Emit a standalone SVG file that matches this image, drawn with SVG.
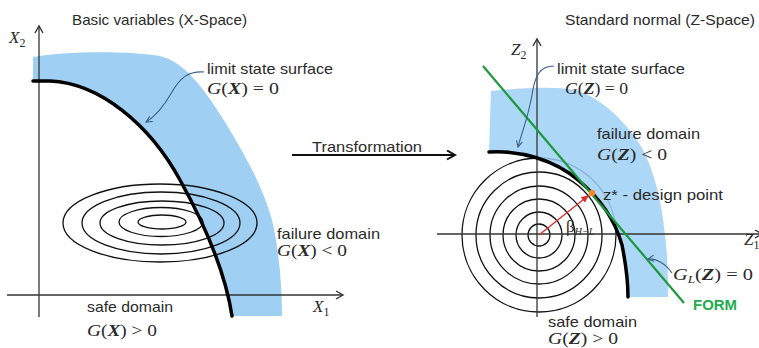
<svg xmlns="http://www.w3.org/2000/svg" width="759" height="348" viewBox="0 0 759 348">
<style>
.lbl{font-family:"Liberation Sans",Arial,sans-serif;font-size:15px;fill:#2a2a2a}
.math{font-family:"Liberation Serif","Times New Roman",serif;font-size:17px;fill:#2a2a2a}
.it{font-style:italic}
.bi{font-style:italic;font-weight:bold}
.axis{stroke:#333;stroke-width:1.3;fill:none}
.lss{stroke:#000;stroke-width:3.5;fill:none;stroke-linecap:round}
.blue{fill:#9fd0f4;stroke:none}
.cont{stroke:#111;stroke-width:1.3;fill:none}
.leader{stroke:#3b5f88;stroke-width:1.1;fill:none}
</style>
<defs>
<marker id="ax" markerUnits="userSpaceOnUse" markerWidth="12" markerHeight="12" refX="8" refY="5" orient="auto">
<path d="M1,1 L8,5 L1,9" fill="none" stroke="#333" stroke-width="1.4"/>
</marker>
<marker id="tr" markerUnits="userSpaceOnUse" markerWidth="12" markerHeight="12" refX="9" refY="5" orient="auto">
<path d="M1,0.5 L9,5 L1,9.5" fill="none" stroke="#111" stroke-width="2"/>
</marker>
<marker id="ld" markerUnits="userSpaceOnUse" markerWidth="10" markerHeight="10" refX="7" refY="4" orient="auto">
<path d="M1,1 L7,4 L1,7" fill="none" stroke="#3b5f88" stroke-width="1.1"/>
</marker>
<marker id="rd" markerUnits="userSpaceOnUse" markerWidth="10" markerHeight="10" refX="8" refY="4" orient="auto">
<path d="M0,0.5 L8,4 L0,7.5 Z" fill="#e0302a"/>
</marker>
</defs>

<g id="left-panel">
<path class="blue" d="M33,57 C60,52 120,50 160,56 C185,62 205,90 225,122 C245,155 262,185 272,220 C279,250 282,285 282,316 L232,316 C225,270 205,225 180,180 C150,125 100,83 50,81 L33,81 Z"/>
<g id="left-axes">
<line class="axis" x1="39" y1="317" x2="39" y2="26" marker-end="url(#ax)"/>
<line class="axis" x1="7" y1="295" x2="343" y2="295" marker-end="url(#ax)"/>
</g>
<g id="left-contours">
<ellipse class="cont" cx="162" cy="222" rx="24" ry="7"/>
<ellipse class="cont" cx="161" cy="222" rx="42" ry="14.5"/>
<ellipse class="cont" cx="162" cy="223" rx="62" ry="22"/>
<ellipse class="cont" cx="161" cy="223" rx="79" ry="31"/>
<ellipse class="cont" cx="160" cy="223" rx="97" ry="39"/>
</g>
<path id="left-limit-state" class="lss" d="M33,81 L50,81 C100,83 150,125 180,180 C205,225 225,270 232,316"/>
<text class="lbl" x="72" y="25" textLength="175" lengthAdjust="spacingAndGlyphs">Basic variables (X-Space)</text>
<text class="math" x="9" y="43"><tspan class="it">X</tspan><tspan font-size="12" dy="4">2</tspan></text>
<text class="math" x="313" y="312"><tspan class="it">X</tspan><tspan font-size="12" dy="4">1</tspan></text>
<text class="lbl" x="207" y="74" textLength="126" lengthAdjust="spacingAndGlyphs">limit state surface</text>
<text class="math" x="207" y="94" textLength="72" lengthAdjust="spacingAndGlyphs"><tspan class="it">G</tspan>(<tspan class="bi">X</tspan>) = 0</text>
<text class="lbl" x="277" y="239" textLength="103" lengthAdjust="spacingAndGlyphs">failure domain</text>
<text class="math" x="277" y="256" textLength="70" lengthAdjust="spacingAndGlyphs"><tspan class="it">G</tspan>(<tspan class="bi">X</tspan>) &lt; 0</text>
<text class="lbl" x="87" y="312" textLength="86" lengthAdjust="spacingAndGlyphs">safe domain</text>
<text class="math" x="87" y="336" textLength="70" lengthAdjust="spacingAndGlyphs"><tspan class="it">G</tspan>(<tspan class="bi">X</tspan>) &gt; 0</text>
</g>

<g id="transformation">
<line x1="292" y1="155" x2="455" y2="155" stroke="#111" stroke-width="2" marker-end="url(#tr)"/>
<text class="lbl" x="312" y="152" textLength="110" lengthAdjust="spacingAndGlyphs">Transformation</text>
</g>

<g id="right-panel">
<g id="right-contours">
<circle class="cont" cx="539" cy="235" r="11"/>
<circle class="cont" cx="539" cy="235" r="23"/>
<circle class="cont" cx="539" cy="235" r="36"/>
<circle class="cont" cx="539" cy="235" r="49"/>
<circle class="cont" cx="539" cy="235" r="63"/>
<circle class="cont" cx="539" cy="235" r="77"/>
</g>
<path class="blue" fill-opacity="0.85" d="M491,91 C520,88 555,86 575,90 C600,97 625,120 642,148 C655,172 662,205 665,235 C668,260 668,280 668,297 L628,297 C628,285 626,265 622,245 C615,220 600,198 578,180 C555,160 520,150 489,152 Z"/>
<g id="right-axes">
<line class="axis" x1="537" y1="317" x2="537" y2="39" marker-end="url(#ax)"/>
<line class="axis" x1="437" y1="234" x2="762" y2="234" marker-end="url(#ax)"/>
</g>
<path id="right-limit-state" class="lss" d="M489,152 C520,150 555,160 578,180 C600,198 615,220 622,245 C626,265 628,285 628,297"/>
<line id="form-line" x1="483" y1="66" x2="684" y2="303" stroke="#1a9a3c" stroke-width="2.2"/>
<line id="beta" x1="539" y1="235" x2="589" y2="195" stroke="#e0302a" stroke-width="1.4" marker-end="url(#rd)"/>
<circle id="design-point" cx="592" cy="193" r="3.2" fill="#f0882a"/>
<text class="lbl" x="565" y="25" textLength="190" lengthAdjust="spacingAndGlyphs">Standard normal (Z-Space)</text>
<text class="math" x="511" y="55"><tspan class="it">Z</tspan><tspan font-size="12" dy="4">2</tspan></text>
<text class="math" x="744" y="245"><tspan class="it">Z</tspan><tspan font-size="12" dy="4">1</tspan></text>
<text class="lbl" x="557" y="74" textLength="128" lengthAdjust="spacingAndGlyphs">limit state surface</text>
<text class="math" x="565" y="94" textLength="63" lengthAdjust="spacingAndGlyphs"><tspan class="it">G</tspan>(<tspan class="bi">Z</tspan>) = 0</text>
<text class="lbl" x="597" y="139" textLength="103" lengthAdjust="spacingAndGlyphs">failure domain</text>
<text class="math" x="597" y="160" textLength="70" lengthAdjust="spacingAndGlyphs"><tspan class="it">G</tspan>(<tspan class="bi">Z</tspan>) &lt; 0</text>
<text class="lbl" x="603" y="200" textLength="120" lengthAdjust="spacingAndGlyphs">z* - design point</text>
<text class="math" x="566" y="232" font-size="15">β<tspan class="it" font-size="10" dy="3">H−L</tspan></text>
<text class="math" x="673" y="280" textLength="80" lengthAdjust="spacingAndGlyphs"><tspan class="it">G</tspan><tspan class="it" font-size="11" dy="3">L</tspan><tspan dy="-3">(</tspan><tspan class="bi">Z</tspan>) = 0</text>
<text x="693" y="310" font-family="Liberation Sans,Arial,sans-serif" font-size="15" font-weight="bold" fill="#22ad4e" textLength="44" lengthAdjust="spacingAndGlyphs">FORM</text>
<text class="lbl" x="548" y="327" textLength="89" lengthAdjust="spacingAndGlyphs">safe domain</text>
<text class="math" x="548" y="344" textLength="70" lengthAdjust="spacingAndGlyphs"><tspan class="it">G</tspan>(<tspan class="bi">Z</tspan>) &gt; 0</text>
</g>

<g id="connectors">
<path class="leader" d="M204,72 C188,71 180,78 172,92 C164,106 156,116 146,122" marker-end="url(#ld)"/>
<path class="leader" d="M554,66 C540,66 535,75 532,95 C528,118 521,135 518,147" marker-end="url(#ld)"/>
<path class="leader" d="M672,273 C666,264 656,258 648,259" marker-end="url(#ld)"/>
</g>
</svg>
